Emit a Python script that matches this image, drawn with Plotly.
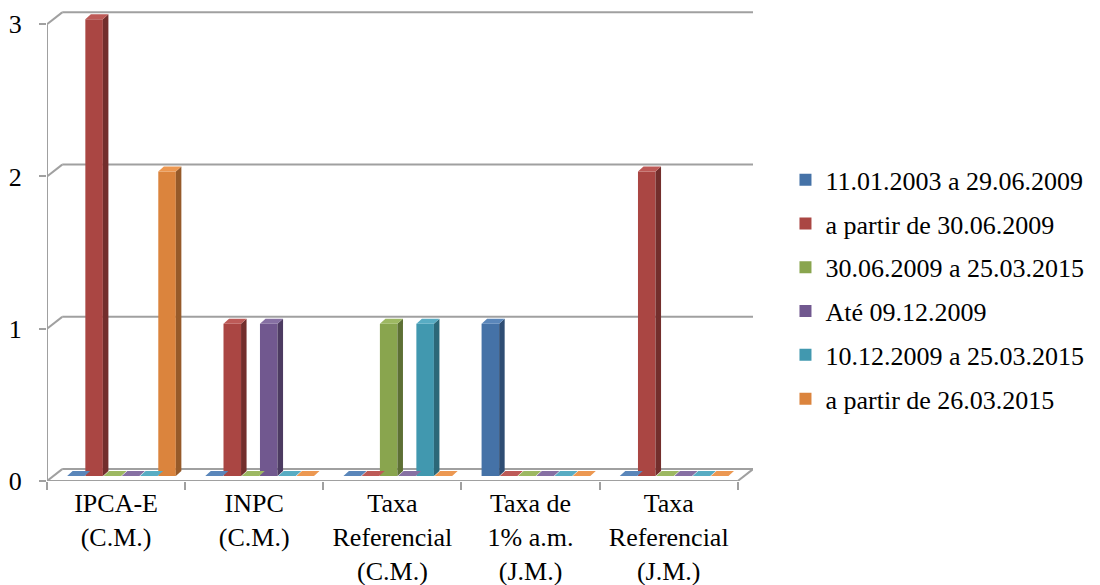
import plotly.graph_objects as go

categories = ["IPCA-E<br>(C.M.)", "INPC<br>(C.M.)", "Taxa<br>Referencial<br>(C.M.)",
              "Taxa de<br>1% a.m.<br>(J.M.)", "Taxa<br>Referencial<br>(J.M.)"]
series_names = ["11.01.2003 a 29.06.2009", "a partir de 30.06.2009", "30.06.2009 a 25.03.2015",
                "Até 09.12.2009", "10.12.2009 a 25.03.2015", "a partir de 26.03.2015"]
v_blue   = [0, 0, 0, 1, 0]
v_red    = [3, 1, 0, 0, 2]
v_green  = [0, 0, 1, 0, 0]
v_purple = [0, 1, 0, 0, 0]
v_teal   = [0, 0, 1, 0, 0]
v_orange = [2, 0, 0, 0, 0]
values = [v_blue, v_red, v_green, v_purple, v_teal, v_orange]
y_ticks = [0, 1, 2, 3]

face_colors = ["#4572A7", "#AA4643", "#89A54E", "#71588F", "#4198AF", "#DB843D"]
side_colors = ["#2E4D73", "#732E2C", "#5D7034", "#4C3B61", "#2C6878", "#965A29"]
top_colors  = ["#5A86BA", "#BD5A57", "#9DB862", "#8670A3", "#58ACC3", "#EC9852"]

FONT = "Liberation Serif, Times New Roman, serif"
GRID = "#A0A0A0"

# 3D geometry (data units)
DX, DY = 0.11, 0.078       # depth of floor / walls
PITCH, BW = 0.132, 0.127   # bar pitch and face width
XS, YS = 0.039, 0.033      # bar face shift (mid-depth)
BDX, BDY = 0.04, 0.033     # bar depth

fig = go.Figure()

# bar faces
for i, (name, vals) in enumerate(zip(series_names, values)):
    xs = [g + (i - 2.5) * PITCH + XS for g in range(len(categories))]
    fig.add_trace(go.Bar(x=xs, y=vals, base=[YS] * len(vals), width=BW, name=name,
                         marker=dict(color=face_colors[i], line=dict(width=0)),
                         legendgroup=name, showlegend=True))

# tops and sides (reverse order so left bars' sides lie above neighbours)
for i in reversed(range(len(values))):
    vals = values[i]
    tx, ty, sx, sy = [], [], [], []
    for g, v in enumerate(vals):
        x0 = g + (i - 2.5) * PITCH + XS - BW / 2
        x1 = x0 + BW
        y0 = YS
        y1 = YS + v
        tx += [x0, x1, x1 + BDX, x0 + BDX, x0, None]
        ty += [y1, y1, y1 + BDY, y1 + BDY, y1, None]
        if v > 0:
            sx += [x1, x1 + BDX, x1 + BDX, x1, x1, None]
            sy += [y0, y0 + BDY, y1 + BDY, y1, y0, None]
    if sx:
        fig.add_trace(go.Scatter(x=sx, y=sy, fill="toself", fillcolor=side_colors[i], mode="lines",
                                 line=dict(width=0, color=side_colors[i]), showlegend=False, hoverinfo="skip"))
    fig.add_trace(go.Scatter(x=tx, y=ty, fill="toself", fillcolor=top_colors[i], mode="lines",
                             line=dict(width=0, color=top_colors[i]), showlegend=False, hoverinfo="skip"))

n = len(categories)
xl, xr = -0.5, n - 0.5
shapes = []
# gridlines on the side and back walls
for v in y_ticks:
    shapes.append(dict(type="line", xref="x", yref="y", x0=xl, y0=v, x1=xl + DX, y1=v + DY,
                       line=dict(color=GRID, width=2), layer="below"))
    shapes.append(dict(type="line", xref="x", yref="y", x0=xl + DX, y0=v + DY, x1=xr + DX, y1=v + DY,
                       line=dict(color=GRID, width=2), layer="below"))
# floor front and right edges, front-left vertical edge
shapes.append(dict(type="line", xref="x", yref="y", x0=xl, y0=0, x1=xr, y1=0,
                   line=dict(color=GRID, width=2), layer="below"))
shapes.append(dict(type="line", xref="x", yref="y", x0=xr, y0=0, x1=xr + DX, y1=DY,
                   line=dict(color=GRID, width=2), layer="below"))
shapes.append(dict(type="line", xref="x", yref="y", x0=xl, y0=0, x1=xl, y1=max(y_ticks),
                   line=dict(color=GRID, width=2), layer="below"))

fig.update_layout(
    width=1100, height=585,
    margin=dict(l=39, r=355, t=1, b=112),
    paper_bgcolor="white", plot_bgcolor="white",
    barmode="overlay",
    shapes=shapes,
    font=dict(family=FONT, size=26, color="black"),
    xaxis=dict(range=[xl, xr + DX], tickvals=list(range(n)), ticktext=categories,
               showgrid=False, zeroline=False, showline=False, ticks="", automargin=False,
               ticklabelstandoff=4, tickfont=dict(family=FONT, size=26)),
    xaxis2=dict(range=[xl, xr + DX], overlaying="x", side="bottom", tickvals=[k - 0.5 for k in range(n + 1)],
                showticklabels=False, ticks="outside", ticklen=8, tickwidth=2, tickcolor=GRID,
                showgrid=False, zeroline=False, showline=False, automargin=False),
    yaxis=dict(range=[0, 3.1], tickvals=y_ticks, ticks="outside", ticklen=7, tickwidth=2, tickcolor=GRID,
               showgrid=False, zeroline=False, showline=False, ticklabelstandoff=12, automargin=False,
               tickfont=dict(family=FONT, size=26)),
    legend=dict(x=1.046, y=0.688, xanchor="left", yanchor="top", tracegroupgap=7,
                font=dict(family=FONT, size=26), bgcolor="rgba(0,0,0,0)"),
    showlegend=True,
)
# dummy trace to activate xaxis2 ticks
fig.add_trace(go.Scatter(x=[xl], y=[0], xaxis="x2", mode="markers", marker=dict(opacity=0),
                         showlegend=False, hoverinfo="skip"))

fig.write_html("out.html")
